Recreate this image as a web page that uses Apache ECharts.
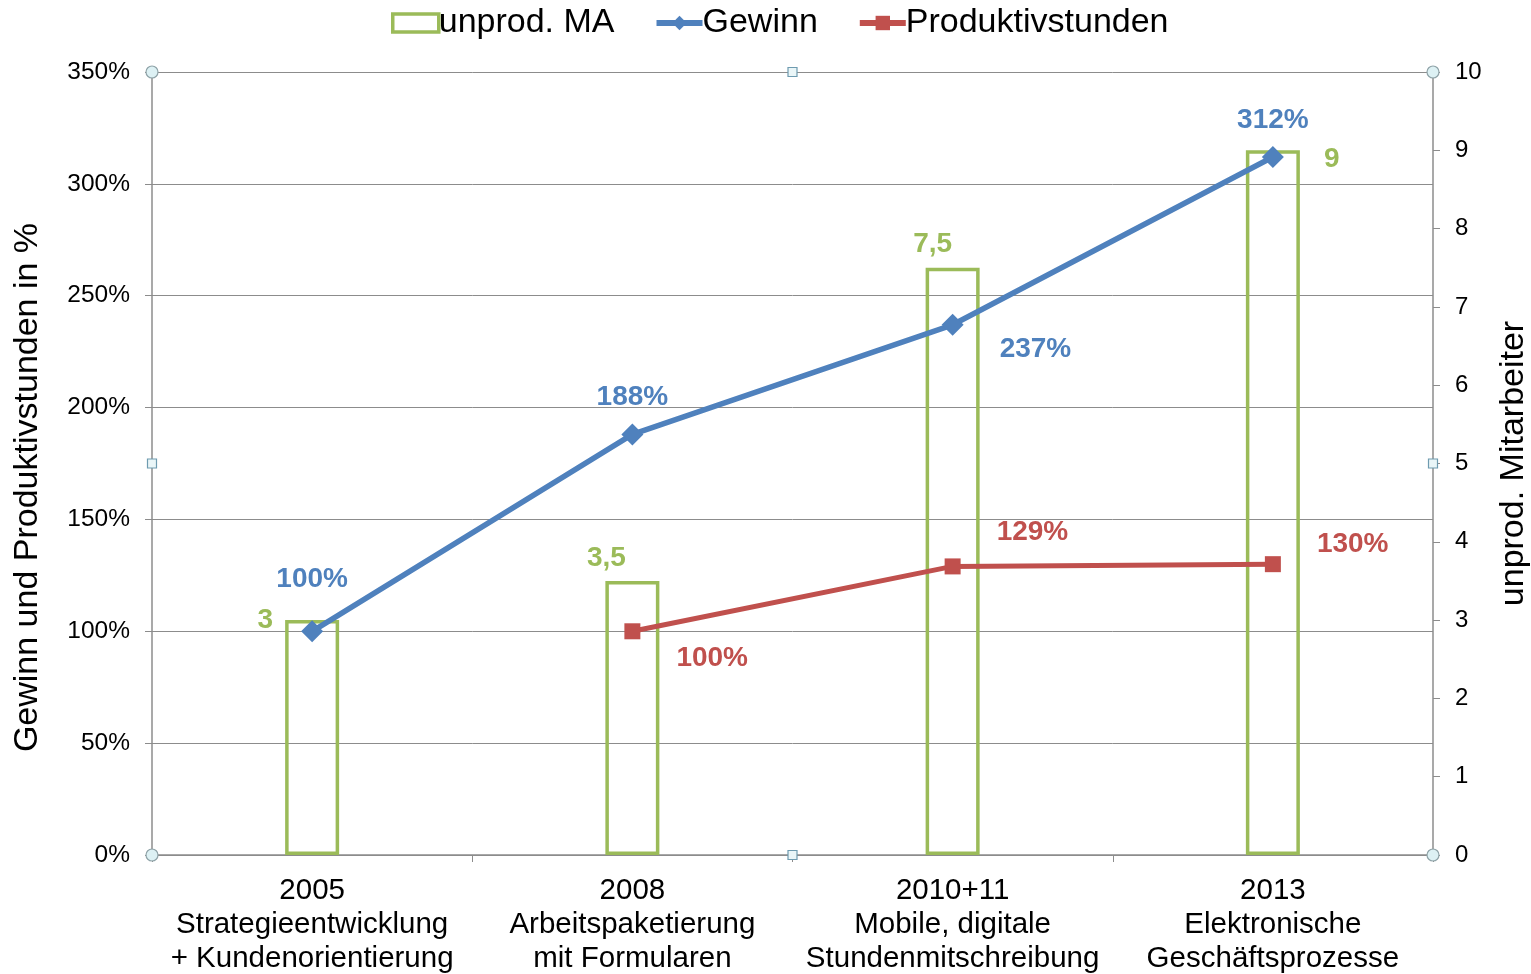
<!DOCTYPE html>
<html><head><meta charset="utf-8">
<script src="https://cdn.jsdelivr.net/npm/echarts@6/dist/echarts.min.js"></script>
<style>html,body{margin:0;padding:0;background:#fff}#c{width:1531px;height:974px}</style>
</head><body><div id="c"></div>
<script>
var years = ['2005', '2008', '2010+11', '2013'];
var topics = ['Strategieentwicklung\n+ Kundenorientierung', 'Arbeitspaketierung\nmit Formularen', 'Mobile, digitale\nStundenmitschreibung', 'Elektronische\nGeschäftsprozesse'];
var unprodMA = [3, 3.5, 7.5, 9];
var gewinn = [100, 188, 237, 312];
var produktiv = [null, 100, 129, 130];
var leftTicks = [0, 50, 100, 150, 200, 250, 300, 350];
var rightTicks = [0, 1, 2, 3, 4, 5, 6, 7, 8, 9, 10];

var GREEN = '#9BBB59', BLUE = '#4F81BD', RED = '#C0504D', AX = '#8C8C8C';
var FF = '"Liberation Sans", Arial, sans-serif';
var categories = years.map(function (y, i) { return y + '\n' + topics[i]; });

var chart = echarts.init(document.getElementById('c'));

var barLabelCfg = [
  { position: 'left', offset: [0, -117], distance: 12 },
  { position: 'top', offset: [-26, 0], distance: 9 },
  { position: 'top', offset: [-20, 0], distance: 9 },
  { position: 'right', offset: [0, -343], distance: 24 }
];
var gewLabelCfg = [
  { position: 'top', distance: 27 },
  { position: 'top', distance: 12 },
  { position: 'right', offset: [6, 24], distance: 30 },
  { position: 'top', distance: 12 }
];
var prodLabelCfg = [
  null,
  { position: 'right', offset: [14, 27], distance: 22 },
  { position: 'right', offset: [14, -34], distance: 22 },
  { position: 'right', offset: [14, -20], distance: 22 }
];

var option = {
  animation: false,
  textStyle: { fontFamily: FF },
  legend: {
    top: 1, left: 386, itemGap: 39, itemWidth: 46, itemHeight: 18,
    textStyle: { fontSize: 34, color: '#000', fontFamily: FF, padding: [0, 0, 0, -5] },
    data: [
      { name: 'unprod. MA', icon: 'rect', itemStyle: { color: '#fff', borderColor: GREEN, borderWidth: 3.5 } },
      { name: 'Gewinn', lineStyle: { width: 6 } },
      { name: 'Produktivstunden', lineStyle: { width: 6 } }
    ]
  },
  grid: { left: 152, right: 98, top: 72, bottom: 119, outerBoundsMode: 'none', containLabel: false },
  xAxis: {
    type: 'category', data: categories, boundaryGap: true,
    axisLine: { lineStyle: { color: AX, width: 1.5 } },
    axisTick: { show: true, length: 7, alignWithLabel: false, lineStyle: { color: AX } },
    axisLabel: { fontSize: 29.5, color: '#000', lineHeight: 34, margin: 19, fontFamily: FF, interval: 0 }
  },
  yAxis: [
    {
      type: 'value', min: 0, max: 350, interval: 50, position: 'left',
      name: 'Gewinn und Produktivstunden in %', nameLocation: 'middle', nameGap: 107, nameRotate: 90,
      nameTextStyle: { fontSize: 34, color: '#000', fontFamily: FF, padding: [0, 48, 0, 0] },
      axisLine: { show: true, lineStyle: { color: AX, width: 1.5 } },
      axisTick: { show: true, length: 7, inside: false, lineStyle: { color: AX } },
      axisLabel: { fontSize: 24.5, color: '#000', margin: 22, fontFamily: FF, formatter: '{value}%' },
      splitLine: { show: true, lineStyle: { color: AX, width: 1 } }
    },
    {
      type: 'value', min: 0, max: 10, interval: 1, position: 'right',
      name: 'unprod. Mitarbeiter', nameLocation: 'middle', nameGap: 64, nameRotate: 90,
      nameTextStyle: { fontSize: 34, color: '#000', fontFamily: FF },
      axisLine: { show: true, lineStyle: { color: AX, width: 1.5 } },
      axisTick: { show: true, length: 7, lineStyle: { color: AX } },
      axisLabel: { fontSize: 24, color: '#000', margin: 22, fontFamily: FF },
      splitLine: { show: false }
    }
  ],
  series: [
    {
      name: 'unprod. MA', type: 'bar', yAxisIndex: 1, barWidth: 54, z: 1,
      itemStyle: { color: 'rgba(255,255,255,0)', borderColor: GREEN, borderWidth: 3.5 },
      data: unprodMA.map(function (v, i) {
        return {
          value: v,
          label: Object.assign({
            show: true, color: GREEN, fontSize: 28, fontWeight: 'bold', fontFamily: FF,
            formatter: function (p) { return String(p.value).replace('.', ','); }
          }, barLabelCfg[i])
        };
      })
    },
    {
      name: 'Gewinn', type: 'line', yAxisIndex: 0, z: 3,
      symbol: 'diamond', symbolSize: 22,
      lineStyle: { color: BLUE, width: 5.5 },
      itemStyle: { color: BLUE },
      data: gewinn.map(function (v, i) {
        return {
          value: v,
          label: Object.assign({
            show: true, color: BLUE, fontSize: 28, fontWeight: 'bold', fontFamily: FF,
            formatter: '{c}%'
          }, gewLabelCfg[i])
        };
      })
    },
    {
      name: 'Produktivstunden', type: 'line', yAxisIndex: 0, z: 3,
      symbol: 'rect', symbolSize: 16,
      lineStyle: { color: RED, width: 5 },
      itemStyle: { color: RED },
      data: produktiv.map(function (v, i) {
        if (v === null) return { value: null };
        return {
          value: v,
          label: Object.assign({
            show: true, color: RED, fontSize: 28, fontWeight: 'bold', fontFamily: FF,
            formatter: '{c}%'
          }, prodLabelCfg[i])
        };
      })
    }
  ]
};
chart.setOption(option);

// Selection handles at plot-area corners and edge midpoints
var r = chart.getModel().getComponent('grid').coordinateSystem.getRect();
var pts = [
  [r.x, r.y, 'c'], [r.x + r.width, r.y, 'c'], [r.x, r.y + r.height, 'c'], [r.x + r.width, r.y + r.height, 'c'],
  [r.x + r.width / 2, r.y, 's'], [r.x + r.width / 2, r.y + r.height, 's'],
  [r.x, r.y + r.height / 2, 's'], [r.x + r.width, r.y + r.height / 2, 's']
];
var g = pts.map(function (p) {
  if (p[2] === 'c') {
    return { type: 'circle', shape: { cx: p[0], cy: p[1], r: 6 }, z: 100,
      style: { fill: '#DDF1F4', stroke: '#8FA3A8', lineWidth: 1.2 } };
  }
  return { type: 'rect', shape: { x: p[0] - 4.5, y: p[1] - 4.5, width: 9, height: 9 }, z: 100,
    style: { fill: '#EAF6F8', stroke: '#6E9BB0', lineWidth: 1.2 } };
});
chart.setOption({ graphic: g });
</script>
</body></html>
